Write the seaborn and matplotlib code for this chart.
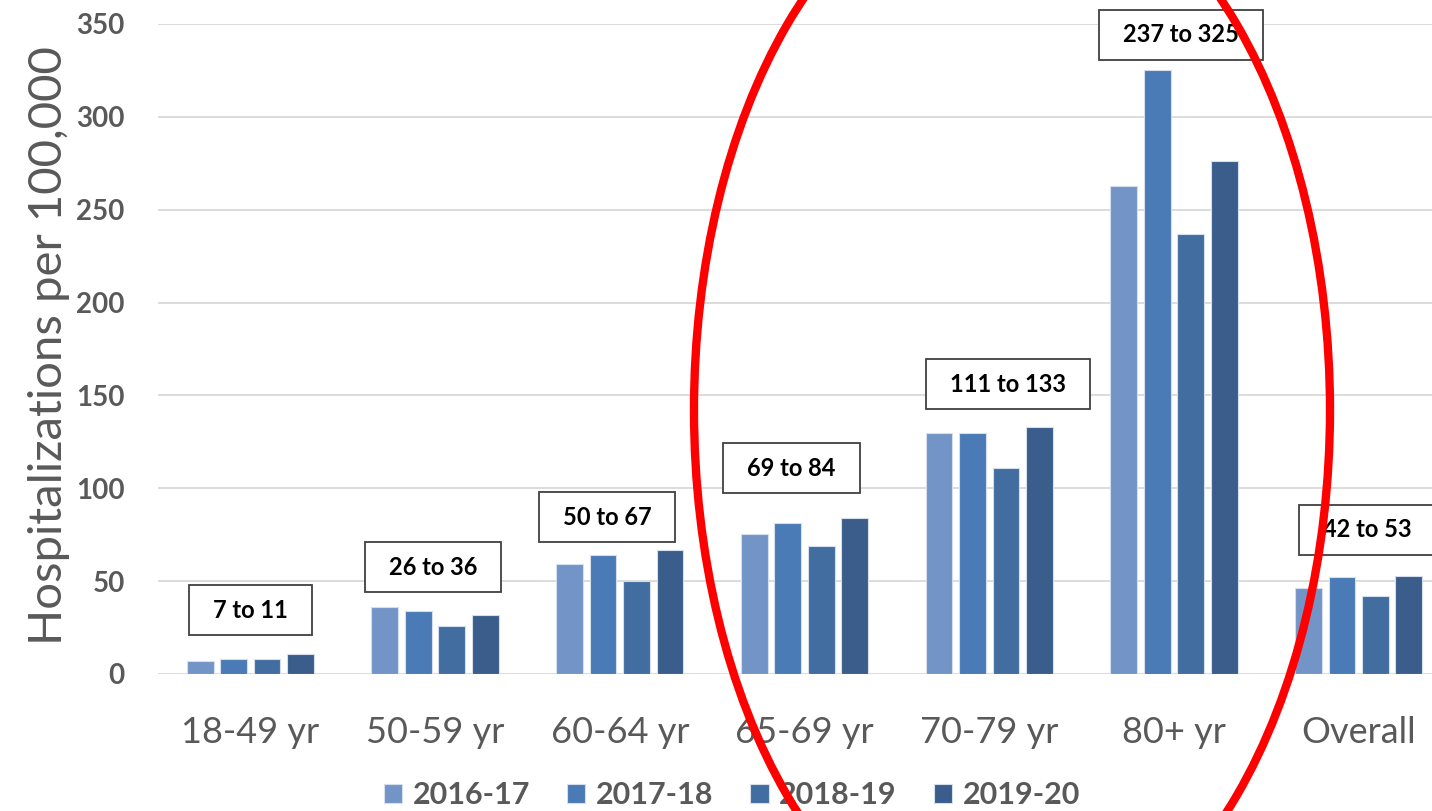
import numpy as np
import pandas as pd
import seaborn as sns
import matplotlib.pyplot as plt
from matplotlib.patches import Rectangle, Ellipse
from matplotlib.transforms import IdentityTransform

# values
ages = ['18-49 yr', '50-59 yr', '60-64 yr', '65-69 yr', '70-79 yr', '80+ yr', 'Overall']
seasons = ['2016-17', '2017-18', '2018-19', '2019-20']
s2016 = [7, 36, 59.5, 75.5, 130, 263, 46.5]
s2017 = [8.3, 34, 64, 81.5, 130, 325, 52]
s2018 = [7.9, 26, 50, 69, 111, 237, 42]
s2019 = [11, 32, 67, 84, 133, 276.5, 53]
ranges = ['7 to 11', '26 to 36', '50 to 67', '69 to 84', '111 to 133', '237 to 325', '42 to 53']

# where the range boxes sit (offset from category centre, y in data units)
box_dx = [0, -0.01, -0.07, -0.07, 0.1, 0.04, 0.045]
box_y = [34.4, 57.4, 84.5, 110.8, 156, 344.3, 77.6]

colors = ['#7394C6', '#4A7BB7', '#426DA1', '#3A5D8B']
grey = '#595959'

df = pd.DataFrame({
    'age': ages * 4,
    'season': np.repeat(seasons, len(ages)),
    'rate': s2016 + s2017 + s2018 + s2019,
})

sns.set_style('white')
plt.rcParams['font.family'] = ['Lato', 'DejaVu Sans']

fig = plt.figure(figsize=(14.32, 8.11), dpi=100)
ax = fig.add_axes([158 / 1432, 1 - 674 / 811, 1293 / 1432, 650 / 811])

sns.barplot(data=df, x='age', y='rate', hue='season', palette=colors,
            saturation=1, width=0.725, gap=0.2, edgecolor='#d5deec',
            linewidth=0.8, errorbar=None, ax=ax, zorder=3)

ax.set_ylim(0, 350)
ax.set_xlim(-0.5, len(ages) - 0.5)
ax.set_yticks(range(0, 351, 50))
ax.yaxis.grid(True, color='#D9D9D9', lw=1.3, zorder=0)
ax.set_axisbelow(True)
for s in ax.spines.values():
    s.set_visible(False)
ax.tick_params(axis='x', length=0, pad=30, labelsize=26, labelcolor=grey)
ax.tick_params(axis='y', length=0, pad=24, labelsize=20, labelcolor=grey)
for t in ax.get_yticklabels():
    t.set_fontweight('bold')
ax.set_xlabel('')
ax.set_ylabel('Hospitalizations per 100,000', fontsize=34, color=grey)
ax.yaxis.set_label_coords(-0.068, 0.505)

handles, labels = ax.get_legend_handles_labels()
ax.legend_.remove()
fig.legend(handles, labels, loc='center', bbox_to_anchor=(732 / 1432, 1 - 795 / 811),
           ncol=4, frameon=False, prop={'weight': 'bold', 'size': 22},
           labelcolor=grey, handlelength=0.6, handleheight=0.6,
           handletextpad=0.35, columnspacing=1.2)

# range labels with boxes
texts = []
for i, lab in enumerate(ranges):
    t = ax.text(i + box_dx[i], box_y[i], lab, ha='center', va='center',
                fontsize=17, fontweight='bold', color='black', zorder=6)
    texts.append(t)

fig.canvas.draw()
r = fig.canvas.get_renderer()
for t in texts:
    bb = t.get_window_extent(r)
    cy = (bb.y0 + bb.y1) / 2
    rect = Rectangle((bb.x0 - 24, cy - 25), bb.width + 48, 50,
                     transform=IdentityTransform(), facecolor='white',
                     edgecolor='#404040', lw=1.3, zorder=5, clip_on=False)
    ax.add_patch(rect)
ax.set_ylim(0, 350)
ax.set_xlim(-0.5, len(ages) - 0.5)

# red highlight ellipse
ell = Ellipse((1012 / 1432, 1 - 410 / 811), 636 / 1432, 1090 / 811,
              transform=fig.transFigure, fill=False, edgecolor='red', lw=6,
              zorder=10, clip_on=False)
fig.add_artist(ell)

fig.savefig('out.png', dpi=100)
